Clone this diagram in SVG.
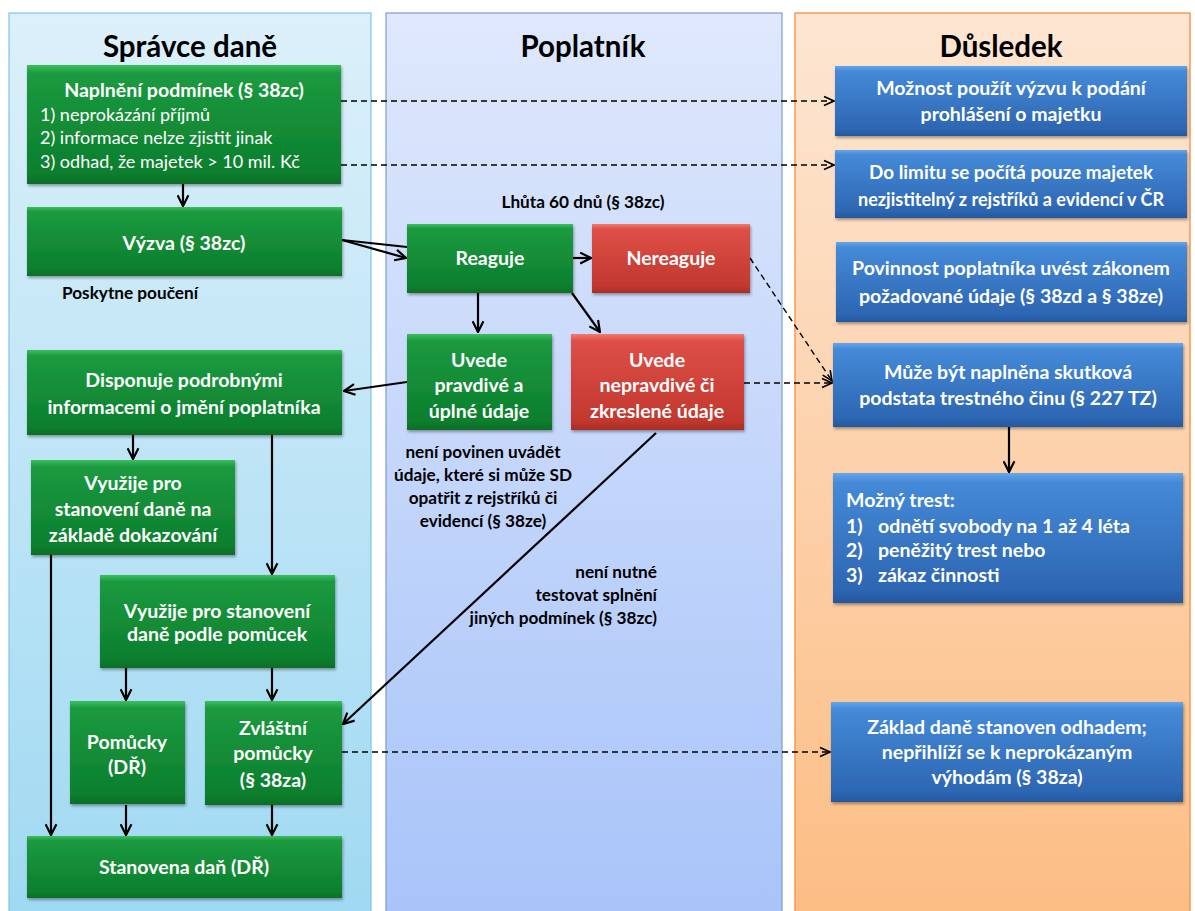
<svg xmlns="http://www.w3.org/2000/svg" width="1195" height="911" viewBox="0 0 1195 911">
<defs>
<linearGradient id="laneL" x1="0" y1="0" x2="0" y2="1"><stop offset="0" stop-color="#dcf0fa"/><stop offset="1" stop-color="#a0d9f2"/></linearGradient>
<linearGradient id="laneM" x1="0" y1="0" x2="0" y2="1"><stop offset="0" stop-color="#dfe8fc"/><stop offset="1" stop-color="#a8c4f9"/></linearGradient>
<linearGradient id="laneR" x1="0" y1="0" x2="0" y2="1"><stop offset="0" stop-color="#fde6d3"/><stop offset="1" stop-color="#fcbd84"/></linearGradient>
<linearGradient id="gG" x1="0" y1="0" x2="0" y2="1"><stop offset="0" stop-color="#3bbf5e"/><stop offset="0.07" stop-color="#1c9a40"/><stop offset="0.9" stop-color="#0c7f2e"/><stop offset="1" stop-color="#0a6e27"/></linearGradient>
<linearGradient id="gR" x1="0" y1="0" x2="0" y2="1"><stop offset="0" stop-color="#f07a70"/><stop offset="0.07" stop-color="#de4f47"/><stop offset="0.9" stop-color="#c2382f"/><stop offset="1" stop-color="#a92d26"/></linearGradient>
<linearGradient id="gB" x1="0" y1="0" x2="0" y2="1"><stop offset="0" stop-color="#66a6ea"/><stop offset="0.07" stop-color="#458ad8"/><stop offset="0.9" stop-color="#2d66b2"/><stop offset="1" stop-color="#24589e"/></linearGradient>
<filter id="sh" x="-5%" y="-10%" width="110%" height="125%"><feDropShadow dx="1" dy="2" stdDeviation="1.5" flood-color="#000" flood-opacity="0.35"/></filter>
<marker id="arr" viewBox="0 0 12 12" refX="11" refY="6" markerWidth="13" markerHeight="13" markerUnits="userSpaceOnUse" orient="auto"><path d="M1,1 L11,6 L1,11" fill="none" stroke="#000" stroke-width="2"/></marker>
<marker id="arrd" viewBox="0 0 12 12" refX="11" refY="6" markerWidth="12" markerHeight="12" markerUnits="userSpaceOnUse" orient="auto"><path d="M1,1.5 L11,6 L1,10.5" fill="none" stroke="#000" stroke-width="1.6"/></marker>
</defs>
<style>
text{font-family:Lato,"Open Sans","Liberation Sans",sans-serif;}
.hd{font-size:29.5px;font-weight:bold;fill:#000;text-anchor:middle;}
.bt{font-size:19.5px;font-weight:bold;fill:#fff;text-anchor:middle;}
.bs{font-size:19.5px;font-weight:bold;fill:#fff;}
.bl{font-size:18px;fill:#fff;}
.lb{font-size:17.2px;font-weight:bold;fill:#000;}
.g{fill:url(#gG);filter:url(#sh);}
.r{fill:url(#gR);filter:url(#sh);}
.b{fill:url(#gB);filter:url(#sh);}
.c{fill:none;stroke:#000;stroke-width:2.2;marker-end:url(#arr);}
.d{fill:none;stroke:#000;stroke-width:1.4;stroke-dasharray:6,4;marker-end:url(#arrd);}
</style>
<rect width="1195" height="911" fill="#fff"/>
<g id="lanes">
<rect x="9" y="13" width="362" height="900" fill="url(#laneL)" stroke="#7cc6e6" stroke-width="1.2"/>
<rect x="386" y="13" width="396" height="900" fill="url(#laneM)" stroke="#7d9cd8" stroke-width="1.2"/>
<rect x="795" y="13" width="395" height="900" fill="url(#laneR)" stroke="#f59a50" stroke-width="1.5"/>
<text class="hd" x="190" y="57">Správce daně</text>
<text class="hd" x="583" y="57">Poplatník</text>
<text class="hd" x="1001" y="57">Důsledek</text>
</g>
<g id="connectors">
<line class="c" x1="183" y1="184" x2="183" y2="206"/>
<line x1="342" y1="240" x2="407" y2="247" stroke="#000" stroke-width="2.2"/>
<line class="c" x1="342" y1="240" x2="406" y2="258"/>
<line class="c" x1="573" y1="258" x2="591" y2="258"/>
<line class="c" x1="478" y1="293" x2="478" y2="332"/>
<line class="c" x1="572" y1="293" x2="600" y2="332"/>
<line class="c" x1="407" y1="382" x2="344" y2="391"/>
<line class="c" x1="656" y1="433" x2="343" y2="724"/>
<line class="c" x1="133" y1="435" x2="133" y2="459"/>
<line class="c" x1="272" y1="435" x2="272" y2="574"/>
<line class="c" x1="51" y1="555" x2="51" y2="835"/>
<line class="c" x1="126" y1="668" x2="126" y2="700"/>
<line class="c" x1="272" y1="668" x2="272" y2="700"/>
<line class="c" x1="126" y1="805" x2="126" y2="835"/>
<line class="c" x1="272" y1="805" x2="272" y2="835"/>
<line class="c" x1="1009" y1="427" x2="1009" y2="472"/>
<line class="d" x1="341" y1="101" x2="834" y2="101"/>
<line class="d" x1="341" y1="165" x2="834" y2="165"/>
<line class="d" x1="750" y1="258" x2="832" y2="381"/>
<line class="d" x1="744" y1="383" x2="832" y2="383"/>
<line class="d" x1="342" y1="752" x2="830" y2="752"/>
</g>
<g id="n_naplneni">
<rect class="g" x="27" y="65" width="314" height="119"/>
<text class="bt" x="184" y="97">Naplnění podmínek (§ 38zc)</text>
<text class="bl" x="40" y="121">1) neprokázání příjmů</text>
<text class="bl" x="40" y="144">2) informace nelze zjistit jinak</text>
<text class="bl" x="40" y="168">3) odhad, že majetek &gt; 10 mil. Kč</text>
</g>
<g id="n_vyzva">
<rect class="g" x="27" y="207" width="315" height="69"/>
<text class="bt" x="184" y="250">Výzva (§ 38zc)</text>
</g>
<g id="l_pouceni"><text class="lb" x="62" y="299">Poskytne poučení</text></g>
<g id="l_lhuta"><text class="lb" x="583" y="208" text-anchor="middle">Lhůta 60 dnů (§ 38zc)</text></g>
<g id="n_reaguje">
<rect class="g" x="407" y="224" width="166" height="69"/>
<text class="bt" x="490" y="265">Reaguje</text>
</g>
<g id="n_nereaguje">
<rect class="r" x="592" y="224" width="158" height="69"/>
<text class="bt" x="671" y="265">Nereaguje</text>
</g>
<g id="n_pravdive">
<rect class="g" x="407" y="334" width="145" height="96"/>
<text class="bt" x="479" y="367">Uvede</text>
<text class="bt" x="479" y="392">pravdivé a</text>
<text class="bt" x="479" y="418">úplné údaje</text>
</g>
<g id="n_nepravdive">
<rect class="r" x="571" y="334" width="173" height="96"/>
<text class="bt" x="657" y="367">Uvede</text>
<text class="bt" x="657" y="392">nepravdivé či</text>
<text class="bt" x="657" y="418">zkreslené údaje</text>
</g>
<g id="l_nepovinen">
<text class="lb" x="483" y="458" text-anchor="middle">není povinen uvádět</text>
<text class="lb" x="483" y="481" text-anchor="middle">údaje, které si může SD</text>
<text class="lb" x="483" y="504" text-anchor="middle">opatřit z rejstříků či</text>
<text class="lb" x="483" y="527" text-anchor="middle">evidencí (§ 38ze)</text>
</g>
<g id="l_nenutne">
<text class="lb" x="657" y="578" text-anchor="end">není nutné</text>
<text class="lb" x="657" y="601" text-anchor="end">testovat splnění</text>
<text class="lb" x="657" y="624" text-anchor="end">jiných podmínek (§ 38zc)</text>
</g>
<g id="n_disponuje">
<rect class="g" x="27" y="350" width="315" height="85"/>
<text class="bt" x="184" y="387">Disponuje podrobnými</text>
<text class="bt" x="184" y="414">informacemi o jmění poplatníka</text>
</g>
<g id="n_dokazovani">
<rect class="g" x="31" y="460" width="204" height="95"/>
<text class="bt" x="133" y="490">Využije pro</text>
<text class="bt" x="133" y="516">stanovení daně na</text>
<text class="bt" x="133" y="542">základě dokazování</text>
</g>
<g id="n_podlepomucek">
<rect class="g" x="100" y="575" width="235" height="93"/>
<text class="bt" x="217" y="618">Využije pro stanovení</text>
<text class="bt" x="217" y="641">daně podle pomůcek</text>
</g>
<g id="n_pomucky">
<rect class="g" x="70" y="701" width="115" height="103"/>
<text class="bt" x="127" y="749">Pomůcky</text>
<text class="bt" x="127" y="774">(DŘ)</text>
</g>
<g id="n_zvlastni">
<rect class="g" x="205" y="701" width="137" height="104"/>
<text class="bt" x="273" y="735">Zvláštní</text>
<text class="bt" x="273" y="760">pomůcky</text>
<text class="bt" x="273" y="787">(§ 38za)</text>
</g>
<g id="n_stanovena">
<rect class="g" x="27" y="836" width="315" height="62"/>
<text class="bt" x="184" y="874">Stanovena daň (DŘ)</text>
</g>
<g id="n_moznost">
<rect class="b" x="835" y="66" width="352" height="70"/>
<text class="bt" x="1011" y="95">Možnost použít výzvu k podání</text>
<text class="bt" x="1011" y="121">prohlášení o majetku</text>
</g>
<g id="n_limit">
<rect class="b" x="835" y="150" width="352" height="68"/>
<text class="bt" x="1011" y="179" textLength="284" lengthAdjust="spacingAndGlyphs">Do limitu se počítá pouze majetek</text>
<text class="bt" x="1011" y="206" textLength="306" lengthAdjust="spacingAndGlyphs">nezjistitelný z rejstříků a evidencí v ČR</text>
</g>
<g id="n_povinnost">
<rect class="b" x="836" y="242" width="351" height="80"/>
<text class="bt" x="1011" y="275">Povinnost poplatníka uvést zákonem</text>
<text class="bt" x="1011" y="303">požadované údaje (§ 38zd a § 38ze)</text>
</g>
<g id="n_skutkova">
<rect class="b" x="833" y="343" width="350" height="84"/>
<text class="bt" x="1008" y="379">Může být naplněna skutková</text>
<text class="bt" x="1008" y="405">podstata trestného činu (§ 227 TZ)</text>
</g>
<g id="n_trest">
<rect class="b" x="833" y="473" width="350" height="130"/>
<text class="bs" x="846" y="507">Možný trest:</text>
<text class="bs" x="846" y="533">1)</text>
<text class="bs" x="878" y="533">odnětí svobody na 1 až 4 léta</text>
<text class="bs" x="846" y="557">2)</text>
<text class="bs" x="878" y="557">peněžitý trest nebo</text>
<text class="bs" x="846" y="582">3)</text>
<text class="bs" x="878" y="582">zákaz činnosti</text>
</g>
<g id="n_zaklad">
<rect class="b" x="831" y="702" width="352" height="100"/>
<text class="bt" x="1007" y="734">Základ daně stanoven odhadem;</text>
<text class="bt" x="1007" y="759">nepřihlíží se k neprokázaným</text>
<text class="bt" x="1007" y="784">výhodám (§ 38za)</text>
</g>
</svg>
